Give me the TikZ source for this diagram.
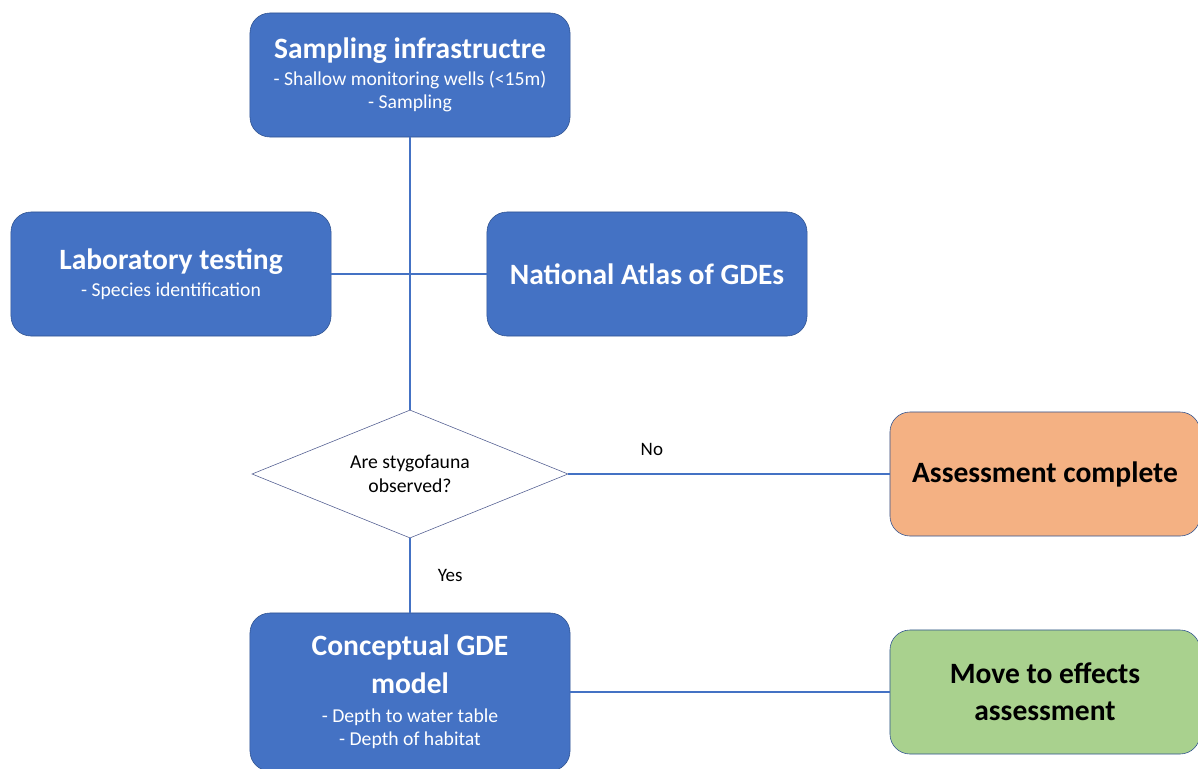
\documentclass[tikz,border=0pt]{standalone}
\usepackage{fontspec}
\setmainfont{Carlito}
\usepackage{xcolor}
\usepackage{tikz}
\usetikzlibrary{shapes,positioning,calc}

\definecolor{boxblue}{HTML}{4472C4}
\definecolor{edgeblue}{HTML}{2F528F}
\definecolor{linkblue}{HTML}{4472C4}
\definecolor{doneorange}{HTML}{F4B183}
\definecolor{nextgreen}{HTML}{A9D18E}
\definecolor{diamgrey}{HTML}{4F5B8F}

\newcommand{\boxtitle}{\bfseries\fontsize{21}{26}\selectfont}

\begin{document}
\begin{tikzpicture}[
    x=0.025cm, y=-0.025cm,
    box/.style={rectangle, draw=edgeblue, rounded corners=0.5cm, minimum width=8cm, minimum height=3.1cm, align=center, fill=boxblue, text=white, font=\fontsize{14}{16.5}\selectfont},
    endbox/.style={box, minimum width=7.75cm, text=black},
    decision/.style={diamond, draw=diamgrey, aspect=2.5, minimum width=7.9cm, minimum height=3.2cm, inner sep=0pt, align=center, font=\fontsize{14}{17}\selectfont},
    link/.style={draw=linkblue, line width=0.8pt},
    tag/.style={font=\fontsize{13.5}{16}\selectfont}
]
\useasboundingbox (0,0) rectangle (1198,769);

% boxes
\node[box] (sampling) at (410,75) {{\boxtitle Sampling infrastructre}\\[3pt] - Shallow monitoring wells (<15m)\\ - Sampling};
\node[box] (lab) at (171,274) {{\boxtitle Laboratory testing}\\[3pt] - Species identification};
\node[box, font=\boxtitle] (atlas) at (647,274) {National Atlas of GDEs};
\node[decision] (observed) at (410,474) {Are stygofauna\\observed?};
\node[endbox, fill=doneorange, font=\boxtitle] (complete) at (1045,474) {Assessment complete};
\node[box, minimum height=3.95cm] (model) at (410,692) {{\boxtitle Conceptual GDE}\\[8pt] {\boxtitle model}\\[4pt] - Depth to water table\\ - Depth of habitat};
\node[endbox, fill=nextgreen, font=\boxtitle] (effects) at (1045,692) {Move to effects\\ assessment};

% connectors
\draw[link] (sampling.south) -- (observed.north);
\draw[link] (lab.east) -- (atlas.west);
\draw[link] (observed.east) -- (complete.west) node[tag, pos=0.26, above=9pt] {No};
\draw[link] (observed.south) -- (model.north) node[tag, midway, right=16pt] {Yes};
\draw[link] (model.east) -- (effects.west);

\end{tikzpicture}
\end{document}
